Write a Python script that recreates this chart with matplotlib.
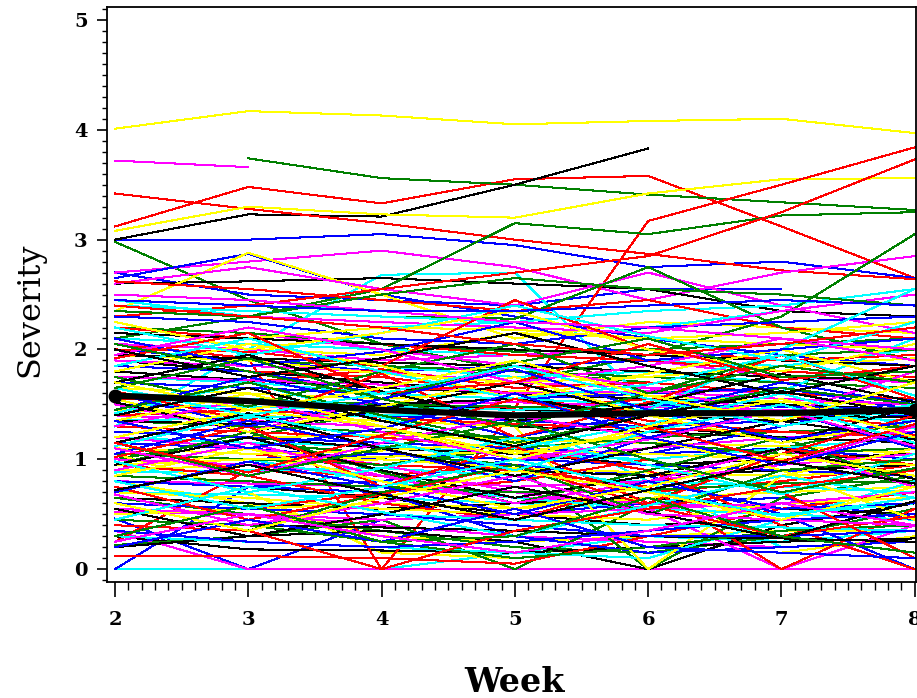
import numpy as np
import matplotlib
matplotlib.use("Agg")
import matplotlib.pyplot as plt
from matplotlib.ticker import MultipleLocator

nan = np.nan
weeks = [2, 3, 4, 5, 6, 7, 8]

# severity per subject, weeks 2..8
red_subjects = [
    [3.12, 3.48, 3.33, 3.55, 3.58, 3.12, 2.65],
    [3.42, 3.28, 3.15, 3.00, 2.87, 2.72, 2.64],
    [1.55, 1.52, 1.50, 1.47, 3.17, 3.50, 3.84],
    [2.30, 2.40, 2.55, 2.70, 2.85, 3.25, 3.73],
    [2.62, 2.55, 2.45, 2.35, 2.45, 2.20, 2.10],
    [0.25, 0.90, 0.85, 0.95, 0.70, 0.80, 0.95],
    [2.05, 1.92, 0.00, 1.45, 1.55, 1.40, 1.30],
    [0.12, 0.12, 0.10, 0.05, 0.30, 0.55, 0.70],
    [1.85, 1.80, 1.75, 1.60, 1.35, 1.25, 1.20],
    [1.75, 1.70, 1.82, 1.65, 1.70, 1.60, 1.55],
    [1.10, 1.05, 0.95, 0.90, 0.75, 0.00, 0.55],
    [0.95, 0.85, 0.60, 0.45, 0.80, 1.10, 0.95],
    [1.30, 1.25, 1.20, 1.10, 0.90, 0.40, 0.00],
    [2.20, 2.10, 2.05, 1.95, 1.90, 1.80, 1.75],
    [0.60, 0.55, 0.70, 0.80, 1.00, 0.70, 0.10],
    [1.40, 1.45, 1.38, 1.32, 1.28, 1.25, 1.22],
    [2.00, 1.98, 1.85, 2.45, 2.00, 1.90, 1.95],
    [1.62, 1.35, 1.78, 1.20, 1.52, 1.95, 1.55],
    [1.02, 1.30, 0.75, 1.12, 0.60, 1.05, 1.40],
    [0.75, 0.45, 0.68, 0.95, 0.58, 0.30, 0.48],
    [1.92, 2.15, 1.60, 1.70, 2.05, 1.72, 1.85],
    [0.40, 0.35, 0.00, 0.35, 0.55, 0.75, 0.90],
    [1.15, 0.88, 1.22, 1.55, 1.30, 0.98, 1.32],
    [2.40, 2.30, 2.20, 2.05, 1.95, 2.05, 2.20],
]
green_subjects = [
    [nan, 3.74, 3.56, 3.50, 3.41, 3.34, 3.27],
    [2.98, 2.45, 2.05, 1.80, 1.70, 1.60, 1.55],
    [2.10, 2.30, 2.55, 3.15, 3.05, 3.22, 3.25],
    [1.00, 1.20, 1.45, 1.70, 1.95, 2.30, 3.05],
    [2.40, 2.35, 2.30, 2.28, 2.75, 2.20, 1.90],
    [0.65, 0.50, 0.35, 0.20, 0.15, 0.30, 0.55],
    [0.22, 0.30, 0.45, 0.00, 0.60, 1.10, 1.35],
    [1.20, 1.15, 1.05, 0.95, 0.00, 0.65, 0.85],
    [1.95, 1.90, 1.85, 1.80, 1.75, 1.70, 1.65],
    [1.60, 1.55, 1.50, 1.48, 1.45, 1.40, 1.35],
    [0.85, 0.80, 0.75, 0.70, 0.72, 0.78, 0.80],
    [1.35, 1.30, 1.25, 1.20, 1.15, 1.05, 1.10],
    [2.20, 2.15, 2.05, 1.98, 2.00, 2.05, 2.10],
    [0.45, 0.40, 0.25, 0.10, 0.20, 0.35, 0.40],
    [1.05, 1.00, 0.95, 1.10, 1.20, 1.25, 1.30],
    [2.35, 2.30, 2.50, 2.65, 2.55, 2.50, 2.40],
    [1.75, 1.48, 1.80, 2.05, 1.60, 1.95, 2.00],
    [0.95, 1.25, 0.88, 0.60, 0.90, 1.20, 0.75],
    [1.45, 1.70, 1.40, 1.15, 1.40, 1.65, 1.50],
    [0.60, 0.35, 0.70, 0.95, 0.50, 0.90, 1.00],
    [2.05, 1.80, 1.55, 1.88, 2.10, 1.75, 1.80],
    [1.15, 0.85, 1.10, 1.35, 1.00, 0.70, 0.92],
    [0.30, 0.58, 0.25, 0.30, 0.65, 0.30, 0.15],
    [1.65, 1.92, 1.55, 1.30, 1.60, 1.85, 1.70],
]
blue_subjects = [
    [3.00, 3.00, 3.05, 2.95, 2.75, 2.80, 2.65],
    [2.70, 2.50, 2.45, 2.40, 2.55, 2.55, nan],
    [2.65, 2.87, 2.50, 2.30, 2.10, 1.95, 1.85],
    [0.00, 0.75, 0.80, 1.00, 1.05, 1.10, 1.00],
    [0.46, 0.00, 0.45, 0.50, 0.60, 0.65, 0.45],
    [2.00, 1.90, 1.80, 1.85, 1.90, 1.80, 1.75],
    [1.50, 1.45, 1.40, 1.35, 1.30, 1.35, 1.40],
    [1.15, 1.10, 1.00, 0.95, 0.85, 0.50, 0.00],
    [0.80, 0.75, 0.70, 0.30, 0.15, 0.20, 0.25],
    [2.30, 2.25, 2.10, 2.05, 2.20, 2.25, 2.30],
    [1.70, 1.65, 1.60, 1.55, 1.50, 1.48, 1.45],
    [0.95, 1.00, 1.05, 1.00, 0.95, 0.90, 0.85],
    [1.25, 1.20, 1.15, 1.10, 1.05, 1.30, 1.55],
    [0.35, 0.25, 0.20, 0.25, 0.35, 0.45, 0.50],
    [1.85, 1.80, 1.60, 1.55, 1.60, 1.65, 1.45],
    [0.60, 0.55, 0.50, 0.40, 0.30, 0.30, 0.35],
    [1.45, 1.75, 1.50, 1.20, 1.42, 1.70, 1.50],
    [2.10, 1.85, 1.98, 2.25, 1.90, 2.00, 2.10],
    [1.05, 1.35, 1.10, 0.80, 1.20, 1.45, 1.10],
    [0.70, 0.98, 0.75, 0.50, 0.80, 0.55, 0.60],
    [1.60, 1.30, 1.55, 1.82, 1.45, 1.18, 1.35],
    [0.20, 0.45, 0.25, 0.55, 0.20, 0.15, 0.10],
    [1.35, 1.10, 1.28, 1.60, 1.20, 0.95, 1.25],
    [2.45, 2.40, 2.35, 2.35, 2.40, 2.45, 2.40],
]
yellow_subjects = [
    [4.01, 4.17, 4.13, 4.05, 4.08, 4.10, 3.97],
    [3.08, 3.30, 3.23, 3.20, 3.42, 3.55, 3.56],
    [2.35, 2.88, 2.50, 2.10, 2.25, 2.20, 2.15],
    [0.80, 0.60, 0.30, 0.25, 0.30, 0.35, 0.35],
    [1.05, 0.70, 0.15, 0.10, 0.20, 0.15, 0.30],
    [2.05, 2.00, 1.95, 2.15, 2.10, 2.05, 2.00],
    [1.65, 1.60, 1.55, 1.62, 1.58, 1.52, 1.50],
    [0.50, 0.55, 0.60, 0.55, 0.65, 0.70, 0.75],
    [1.25, 1.20, 1.22, 1.18, 1.15, 1.12, 1.05],
    [0.90, 0.95, 1.00, 0.92, 0.88, 0.85, 0.90],
    [1.95, 1.90, 1.78, 1.70, 1.75, 1.85, 1.92],
    [0.70, 0.65, 0.55, 0.50, 0.45, 0.60, 0.65],
    [1.45, 1.40, 1.35, 1.30, 0.00, 0.85, 1.10],
    [2.15, 2.10, 2.20, 2.18, 2.10, 2.15, 2.25],
    [1.10, 1.05, 1.08, 1.15, 1.20, 0.90, 0.45],
    [0.95, 1.00, 1.02, 1.08, 1.05, 1.00, 0.95],
    [1.80, 2.05, 1.85, 1.55, 1.78, 2.00, 1.70],
    [1.55, 1.25, 1.48, 1.75, 1.40, 1.15, 1.35],
    [2.25, 2.00, 2.15, 2.35, 2.00, 1.80, 2.05],
    [0.85, 1.10, 0.80, 0.55, 0.75, 1.05, 0.85],
    [1.35, 1.60, 1.30, 1.05, 1.25, 1.50, 1.15],
    [0.60, 0.35, 0.65, 0.90, 0.70, 0.45, 0.75],
    [1.20, 1.45, 1.30, 1.00, 1.30, 1.55, 1.20],
    [1.70, 1.45, 1.65, 1.90, 1.58, 1.35, 1.70],
]
magenta_subjects = [
    [3.72, 3.66, nan, nan, nan, nan, nan],
    [2.70, 2.80, 2.90, 2.75, 2.45, 2.70, 2.85],
    [2.60, 2.75, 2.55, 2.40, 2.70, 2.40, 2.15],
    [2.20, 2.15, 2.00, 1.85, 1.90, 1.75, 1.70],
    [0.35, 0.00, 0.00, 0.00, 0.00, 0.00, 0.00],
    [0.52, 0.50, 0.40, 0.30, 0.25, 0.20, 0.25],
    [0.80, 0.78, 0.75, 0.65, 0.60, 0.55, 0.60],
    [1.90, 1.85, 1.80, 1.70, 1.65, 1.60, 1.55],
    [1.60, 1.55, 1.50, 1.52, 1.48, 1.45, 1.42],
    [1.20, 1.10, 0.95, 0.70, 0.55, 0.00, 0.40],
    [2.05, 2.00, 1.90, 1.95, 2.00, 2.05, 2.10],
    [1.00, 0.95, 0.85, 0.75, 0.80, 0.95, 1.05],
    [1.40, 1.35, 1.30, 1.00, 1.10, 1.20, 1.25],
    [0.55, 0.50, 0.45, 0.50, 0.55, 0.60, 0.70],
    [2.35, 2.30, 2.25, 2.20, 2.15, 2.35, 2.50],
    [1.75, 1.72, 1.68, 1.60, 1.62, 1.55, 1.50],
    [1.50, 1.25, 1.55, 1.85, 1.65, 1.40, 1.80],
    [0.90, 1.15, 0.85, 0.60, 0.80, 1.10, 0.75],
    [1.95, 2.20, 2.00, 1.70, 1.85, 2.10, 1.90],
    [1.10, 0.85, 1.15, 1.40, 1.20, 0.95, 1.30],
    [0.68, 0.40, 0.60, 0.85, 0.50, 0.45, 0.40],
    [1.30, 1.55, 1.25, 1.00, 1.18, 1.45, 1.12],
    [2.50, 2.45, 2.35, 2.25, 2.20, 2.10, 2.00],
    [0.25, 0.50, 0.30, 0.15, 0.35, 0.60, 0.40],
]
cyan_subjects = [
    [0.00, 0.00, 0.00, 0.15, 0.30, 0.25, 0.35],
    [1.30, 2.00, 2.68, 2.70, 1.50, 1.45, 1.40],
    [2.45, 2.30, 2.20, 2.25, 2.35, 2.40, 2.55],
    [0.70, 0.68, 0.65, 0.60, 0.55, 0.50, 0.45],
    [1.50, 1.48, 1.45, 1.40, 0.80, 0.20, 0.25],
    [2.40, 2.35, 2.30, 2.25, 2.20, 2.35, 2.50],
    [1.95, 1.90, 1.85, 1.75, 1.80, 1.70, 1.65],
    [0.88, 0.90, 0.92, 0.85, 0.80, 0.75, 0.70],
    [1.20, 1.15, 1.12, 1.05, 1.00, 1.10, 1.20],
    [1.60, 1.55, 1.48, 1.45, 1.50, 1.40, 1.35],
    [0.30, 0.25, 0.20, 0.15, 0.10, 0.45, 0.80],
    [1.05, 1.00, 0.80, 0.65, 0.55, 0.50, 0.60],
    [2.10, 2.05, 2.00, 1.95, 1.90, 1.85, 2.00],
    [0.60, 0.55, 0.50, 0.45, 0.40, 0.38, 0.35],
    [1.75, 1.70, 1.60, 1.55, 1.50, 1.62, 2.10],
    [1.35, 1.38, 1.40, 1.42, 1.45, 2.00, 2.55],
    [1.42, 1.70, 1.38, 1.10, 1.32, 1.60, 1.28],
    [2.20, 1.95, 2.15, 2.40, 2.12, 1.90, 2.25],
    [0.98, 0.70, 0.92, 1.20, 0.95, 0.68, 1.05],
    [1.85, 2.10, 1.80, 1.55, 1.68, 1.95, 1.58],
    [0.45, 0.75, 0.52, 0.30, 0.58, 0.85, 0.65],
    [1.12, 1.40, 1.18, 0.90, 1.25, 1.50, 1.15],
    [1.65, 1.40, 1.60, 1.85, 1.55, 1.30, 1.50],
    [0.80, 0.55, 0.75, 1.00, 0.72, 0.48, 0.65],
]
black_subjects = [
    [3.00, 3.23, 3.21, 3.50, 3.83, nan, nan],
    [2.60, 2.62, 2.65, 2.60, 2.55, 2.35, 2.30],
    [1.90, 1.80, 1.70, 1.60, 1.55, 1.50, 1.45],
    [0.80, 0.75, 0.65, 0.50, 0.40, 0.45, 0.50],
    [0.65, 0.60, 0.55, 0.60, 0.65, 0.55, 0.50],
    [0.30, 0.18, 0.17, 0.15, 0.20, 0.25, 0.28],
    [0.20, 0.30, 0.35, 0.25, 0.00, 0.40, 0.60],
    [1.45, 1.40, 1.35, 1.30, 1.25, 1.20, 1.15],
    [1.60, 1.55, 1.50, 1.45, 1.42, 1.40, 1.38],
    [1.05, 1.00, 0.95, 0.90, 0.85, 0.90, 0.95],
    [1.25, 1.20, 1.10, 1.05, 0.95, 1.00, 1.05],
    [1.95, 1.92, 1.88, 1.85, 1.80, 1.75, 1.72],
    [0.45, 0.40, 0.38, 0.35, 0.30, 0.28, 0.25],
    [1.80, 1.72, 1.65, 1.60, 1.30, 1.20, 1.15],
    [2.15, 2.10, 2.05, 2.00, 1.95, 1.90, 1.85],
    [1.35, 1.32, 1.50, 1.55, 1.40, 1.35, 1.45],
    [1.52, 1.25, 1.45, 1.70, 1.40, 1.15, 1.48],
    [0.95, 1.20, 0.90, 0.65, 0.85, 1.10, 0.82],
    [1.70, 1.95, 1.62, 1.35, 1.50, 1.78, 1.52],
    [0.55, 0.30, 0.50, 0.75, 0.52, 0.28, 0.62],
    [1.15, 1.42, 1.10, 0.85, 1.10, 1.35, 1.18],
    [2.00, 1.75, 1.92, 2.15, 1.85, 1.60, 1.85],
    [1.40, 1.65, 1.35, 1.12, 1.40, 1.62, 1.40],
    [0.72, 0.95, 0.68, 0.45, 0.72, 0.98, 0.78],
]
mean_severity = [1.58, 1.53, 1.45, 1.40, 1.42, 1.42, 1.45]

groups = [
    ("#FF0000", red_subjects),
    ("#008000", green_subjects),
    ("#0000FF", blue_subjects),
    ("#FFFF00", yellow_subjects),
    ("#FF00FF", magenta_subjects),
    ("#00FFFF", cyan_subjects),
    ("#000000", black_subjects),
]

fig = plt.figure(figsize=(9.17, 6.98), dpi=100)
ax = fig.add_axes([0.1167, 0.166, 0.8823, 0.824])

# interleave colours like SAS does
n_subj = len(red_subjects)
for i in range(n_subj):
    for color, rows in groups:
        ax.plot(weeks, rows[i], color=color, lw=0.75, antialiased=False)

ax.plot(weeks, mean_severity, color="black", lw=4.5, solid_capstyle="round")
ax.plot([weeks[0], weeks[-1]], [mean_severity[0], mean_severity[-1]],
        "o", color="black", ms=9)

ax.set_xlim(1.94, 8.01)
ax.set_ylim(-0.118, 5.118)
ax.xaxis.set_major_locator(MultipleLocator(1))
ax.xaxis.set_minor_locator(MultipleLocator(0.1))
ax.yaxis.set_major_locator(MultipleLocator(1))
ax.yaxis.set_minor_locator(MultipleLocator(0.1))
ax.tick_params(axis="x", which="major", direction="out", length=11, width=1.2, pad=10)
ax.tick_params(axis="x", which="minor", direction="out", length=6, width=1.0)
ax.tick_params(axis="y", which="major", direction="out", length=7, width=1.2, pad=7)
ax.tick_params(axis="y", which="minor", direction="out", length=3.5, width=1.0)
for sp in ax.spines.values():
    sp.set_linewidth(1.3)

for lab in ax.get_xticklabels() + ax.get_yticklabels():
    lab.set_fontfamily("DejaVu Serif")
    lab.set_fontweight("bold")
    lab.set_fontsize(14)

fig.text(0.033, 0.556, "Severity", rotation=90, ha="center", va="center",
         family="DejaVu Serif", fontsize=23)
fig.text(0.5615, 0.022, "Week", ha="center", va="center",
         family="DejaVu Serif", fontweight="bold", fontsize=24)

fig.savefig("out.png", dpi=100)
